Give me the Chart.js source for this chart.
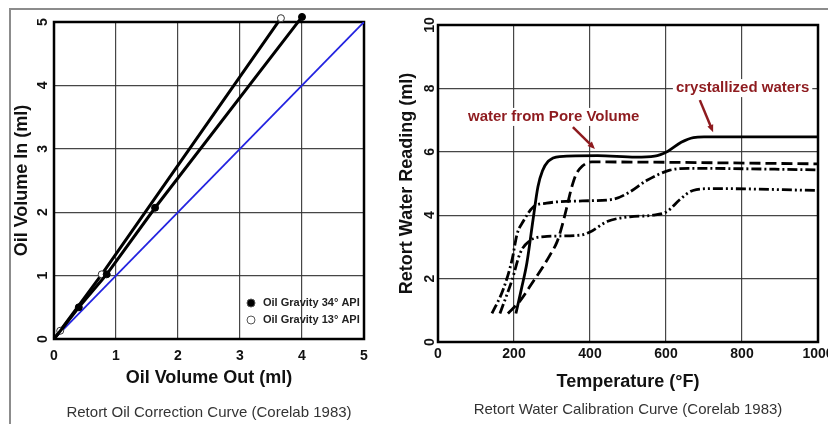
<!DOCTYPE html>
<html>
<head>
<meta charset="utf-8">
<script src="https://cdn.jsdelivr.net/npm/chart.js@4.4.1/dist/chart.umd.min.js"></script>
<style>
  html, body { margin: 0; padding: 0; background: #fff; overflow: hidden; }
  body { width: 828px; height: 424px; position: relative; }
  #frame { position: absolute; left: 9px; top: 8px; width: 830px; height: 430px;
           border-top: 2px solid #8c8c8c; border-left: 2px solid #8c8c8c; }
  #oilBox { position: absolute; left: 0; top: 0; width: 385px; height: 424px; }
  #waterBox { position: absolute; left: 390px; top: 0; width: 460px; height: 424px; }
</style>
</head>
<body>
<div id="frame"></div>
<div id="oilBox"><canvas id="oilChart"></canvas></div>
<div id="waterBox"><canvas id="waterChart"></canvas></div>
<script>
// ---- Oil correction curve (left) ----
const oilTicks = [0, 1, 2, 3, 4, 5];
const api34Out = [0, 0.4, 0.85, 1.63, 4.0];
const api34In = [0, 0.5, 1.02, 2.07, 5.08];
const api13Out = [0, 0.1, 0.77, 3.66];
const api13In = [0, 0.13, 1.02, 5.06];
const unityOut = [0, 5];
const unityIn = [0, 5];

// ---- Water calibration curve (right) ----
const tempTicks = [0, 200, 400, 600, 800, 1000];
const waterTicks = [0, 2, 4, 6, 8, 10];
const solidT = [205, 220, 234, 250, 263, 275, 290, 320, 420, 520, 570, 605, 640, 672, 700, 1000];
const solidV = [0.9, 1.7, 2.5, 3.85, 4.9, 5.4, 5.7, 5.85, 5.88, 5.83, 5.86, 6.02, 6.3, 6.45, 6.47, 6.47];
const dashT = [184, 216, 250, 275, 295, 313, 325, 340, 350, 362, 380, 405, 1000];
const dashV = [0.9, 1.3, 1.9, 2.35, 2.75, 3.15, 3.6, 4.3, 4.8, 5.25, 5.55, 5.68, 5.62];
const dashDotT = [142, 171, 195, 208, 224, 250, 286, 380, 460, 500, 550, 610, 660, 1000];
const dashDotV = [0.9, 1.64, 2.6, 3.4, 3.8, 4.25, 4.38, 4.45, 4.5, 4.7, 5.1, 5.42, 5.48, 5.43];
const dashDot2T = [163, 195, 216, 242, 287, 374, 400, 445, 505, 566, 603, 637, 671, 724, 1000];
const dashDot2V = [0.9, 1.96, 2.8, 3.2, 3.33, 3.37, 3.47, 3.8, 3.95, 4.0, 4.12, 4.5, 4.78, 4.84, 4.78];

const FONT = '"Liberation Sans", Arial, sans-serif';
const INK = '#111';
const GRID = 'rgba(50,50,50,0.9)';
const RED = '#8e1b1f';

Chart.defaults.font.family = FONT;
Chart.defaults.animation = false;

const pts = (xs, ys) => xs.map((x, i) => ({ x: x, y: ys[i] }));

// black frame round the plot area
const plotFrame = {
    id: 'plotFrame',
    beforeDatasetsDraw: (chart) => {
        const { ctx, chartArea: a } = chart;
        ctx.save();
        ctx.strokeStyle = '#000';
        ctx.lineWidth = 2.5;
        ctx.strokeRect(a.left, a.top, a.right - a.left, a.bottom - a.top);
        ctx.restore();
    }
};

// caption under each chart
const caption = {
    id: 'caption',
    afterDraw: (chart, args, opts) => {
        const { ctx, chartArea: a } = chart;
        ctx.save();
        ctx.font = '15px ' + FONT;
        ctx.fillStyle = '#333';
        ctx.textAlign = 'center';
        ctx.textBaseline = 'middle';
        ctx.fillText(opts.text, (a.left + a.right) / 2, opts.y);
        ctx.restore();
    }
};

// legend drawn inside plot, lower right
const innerLegend = {
    id: 'innerLegend',
    afterDraw: (chart) => {
        const { ctx, chartArea: a } = chart;
        ctx.save();
        ctx.font = 'bold 11px ' + FONT;
        ctx.textBaseline = 'middle';
        [0, 1].forEach((i, k) => {
            const ds = chart.data.datasets[i];
            const x = a.right - 113, y = a.bottom - 36 + k * 17;
            ctx.beginPath();
            ctx.arc(x, y, 4, 0, Math.PI * 2);
            ctx.fillStyle = ds.pointBackgroundColor;
            ctx.fill();
            ctx.lineWidth = 1;
            ctx.strokeStyle = '#555';
            ctx.stroke();
            ctx.fillStyle = '#222';
            ctx.fillText(ds.label, x + 12, y);
        });
        ctx.restore();
    }
};

function arrow(ctx, x1, y1, x2, y2) {
    const ang = Math.atan2(y2 - y1, x2 - x1), h = 8;
    ctx.beginPath();
    ctx.moveTo(x1, y1);
    ctx.lineTo(x2 - Math.cos(ang) * h * 0.8, y2 - Math.sin(ang) * h * 0.8);
    ctx.stroke();
    ctx.beginPath();
    ctx.moveTo(x2, y2);
    ctx.lineTo(x2 - h * Math.cos(ang - 0.4), y2 - h * Math.sin(ang - 0.4));
    ctx.lineTo(x2 - h * Math.cos(ang + 0.4), y2 - h * Math.sin(ang + 0.4));
    ctx.closePath();
    ctx.fill();
}

// red notes with arrows on the water chart
const notes = {
    id: 'notes',
    afterDatasetsDraw: (chart) => {
        const { ctx, scales: { x, y } } = chart;
        const items = [
            { text: 'water from Pore Volume', t: 79, v: 7.1, from: [355, 6.78], to: [413, 6.09] },
            { text: 'crystallized waters', t: 626, v: 8.01, from: [689, 7.63], to: [724, 6.62] }
        ];
        ctx.save();
        ctx.font = 'bold 15px ' + FONT;
        ctx.textBaseline = 'middle';
        items.forEach(n => {
            const px = x.getPixelForValue(n.t), py = y.getPixelForValue(n.v);
            const w = ctx.measureText(n.text).width;
            ctx.fillStyle = '#fff';
            ctx.fillRect(px - 3, py - 9, w + 6, 18);
            ctx.fillStyle = RED;
            ctx.fillText(n.text, px, py);
            ctx.strokeStyle = RED;
            ctx.lineWidth = 2.5;
            arrow(ctx, x.getPixelForValue(n.from[0]), y.getPixelForValue(n.from[1]),
                x.getPixelForValue(n.to[0]), y.getPixelForValue(n.to[1]));
        });
        ctx.restore();
    }
};

function axisOpts(min, max, ticks, title, o) {
    const vertical = o.vertical;
    return {
        type: 'linear', min: min, max: max,
        afterBuildTicks: a => { a.ticks = ticks.map(v => ({ value: v })); },
        afterFit: a => { if (vertical) a.width = o.size; else a.height = o.size; },
        border: { display: false },
        grid: { color: GRID, lineWidth: 1.2, drawTicks: false },
        ticks: {
            padding: o.pad, color: INK,
            font: { size: 14, weight: 'bold' },
            minRotation: vertical ? 90 : 0, maxRotation: vertical ? 90 : 0,
            crossAlign: vertical ? 'center' : 'near',
            callback: v => String(v)
        },
        title: {
            display: true, text: title, color: INK,
            font: { size: 18, weight: 'bold' },
            padding: { top: o.tpad, bottom: 0 }
        }
    };
}

const oilChart = new Chart(document.getElementById('oilChart'), {
    type: 'scatter',
    data: {
        datasets: [
            {
                label: 'Oil Gravity 34° API', data: pts(api34Out, api34In), showLine: true,
                borderColor: '#000', borderWidth: 3, pointBackgroundColor: '#000',
                pointBorderColor: '#000', pointBorderWidth: 1,
                pointRadius: c => c.dataIndex === 0 ? 0 : 3.5, pointHoverRadius: 9, clip: false
            },
            {
                label: 'Oil Gravity 13° API', data: pts(api13Out, api13In), showLine: true,
                borderColor: '#000', borderWidth: 3, pointBackgroundColor: '#fff',
                pointBorderColor: '#333', pointBorderWidth: 1,
                pointRadius: c => c.dataIndex === 0 ? 0 : 3.5, pointHoverRadius: 9, clip: false
            },
            {
                label: 'unity', data: pts(unityOut, unityIn), showLine: true,
                borderColor: '#2323e0', borderWidth: 1.8, pointRadius: 0
            }
        ]
    },
    options: {
        responsive: true,
        maintainAspectRatio: false,
        events: [],
        layout: { padding: { left: 10, top: 22, right: 21, bottom: 35 } },
        plugins: {
            legend: { display: false },
            tooltip: { enabled: false },
            caption: { text: 'Retort Oil Correction Curve (Corelab 1983)', y: 413 }
        },
        scales: {
            x: axisOpts(0, 5, oilTicks, 'Oil Volume Out (ml)', { size: 50, pad: 9, tpad: 0 }),
            y: axisOpts(0, 5, oilTicks, 'Oil Volume In (ml)', { vertical: true, size: 44, pad: 7, tpad: 1 })
        }
    },
    plugins: [plotFrame, caption, innerLegend]
});

const curve = (t, v, dash) => ({
    data: pts(t, v), showLine: true, borderColor: '#000', borderWidth: 2.8,
    borderDash: dash, pointRadius: 0, cubicInterpolationMode: 'monotone'
});

const waterChart = new Chart(document.getElementById('waterChart'), {
    type: 'scatter',
    data: {
        datasets: [
            curve(solidT, solidV, []),
            curve(dashT, dashV, [11, 5]),
            curve(dashDotT, dashDotV, [10, 3, 2, 3]),
            curve(dashDot2T, dashDot2V, [10, 3, 2, 3, 2, 3])
        ]
    },
    options: {
        responsive: true,
        maintainAspectRatio: false,
        events: [],
        layout: { padding: { left: 0, top: 25, right: 32, bottom: 31 } },
        plugins: {
            legend: { display: false },
            tooltip: { enabled: false },
            caption: { text: 'Retort Water Calibration Curve (Corelab 1983)', y: 410 }
        },
        scales: {
            x: axisOpts(0, 1000, tempTicks, 'Temperature (°F)', { size: 51, pad: 4, tpad: 0 }),
            y: axisOpts(0, 10, waterTicks, 'Retort Water Reading (ml)', { vertical: true, size: 48, pad: 0, tpad: 6 })
        }
    },
    plugins: [plotFrame, caption, notes]
});
</script>
</body>
</html>
